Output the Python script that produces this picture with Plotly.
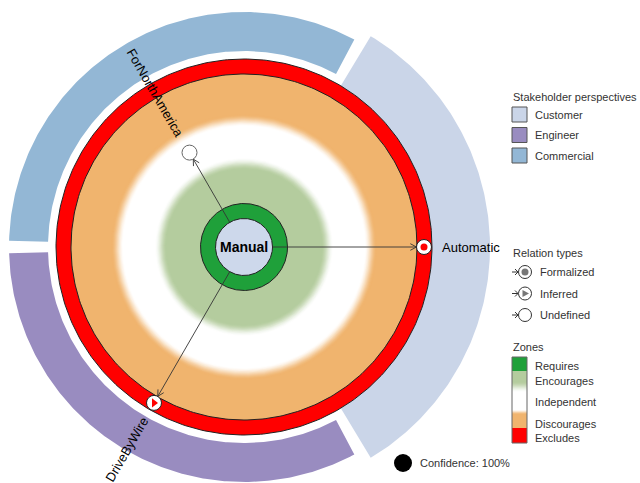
"""Feature relation radar: one centre feature, its zones and related features."""

import numpy as np
import plotly.graph_objects as go

FONT = "Arial, Liberation Sans, sans-serif"
WIDTH, HEIGHT = 640, 483
# chart centre in pixels (from left, from top)
CENTER_PX = (244, 247)

# ---- data -------------------------------------------------------------
CENTER_FEATURE = "Manual"

PERSPECTIVES = ["Customer", "Engineer", "Commercial"]
PERSPECTIVE_START = [-59, 181.5, 62]  # degrees, counter-clockwise from east
PERSPECTIVE_END = [59, 298, 178.5]

ZONES = ["Requires", "Encourages", "Independent", "Discourages", "Excludes"]
ZONE_OUTER = [43.5, 84, 127, 173, 188]

FEATURES = ["Automatic", "ForNorthAmerica", "DriveByWire"]
FEATURE_ANGLE = [0, 120, 240]
FEATURE_DISTANCE = [180, 109, 180]
FEATURE_ZONE = ["Excludes", "Independent", "Excludes"]
FEATURE_RELATION = ["Formalized", "Undefined", "Inferred"]

RELATION_TYPES = ["Formalized", "Inferred", "Undefined"]
CONFIDENCE = 100

# ---- style ------------------------------------------------------------
PERSPECTIVE_COLORS = {"Customer": "#cad5e8", "Engineer": "#998cc0", "Commercial": "#93b7d5"}
PERSPECTIVE_RADII = {"Customer": (188, 246), "Engineer": (196, 235), "Commercial": (196, 235)}
ZONE_COLORS = {
    "Requires": "#1fa03a",
    "Encourages": "#b4cc9e",
    "Independent": "#ffffff",
    "Discourages": "#f0b46e",
    "Excludes": "#ff0000",
}
CENTER_COLOR = "#cdd8eb"
CENTER_RADIUS = 28.5
BLUR = 12
MARKER_RADIUS = 7.5
LABEL_GAP = 15
CHAR_WIDTH = 7.1
OUTLINE = "#222222"
TEXT_GREY = "#333333"


def hex_rgb(color):
    color = color.lstrip("#")
    return tuple(int(color[i:i + 2], 16) for i in (0, 2, 4))


def mix(c0, c1, t):
    a, b = hex_rgb(c0), hex_rgb(c1)
    return "rgb({},{},{})".format(*[round(a[i] + (b[i] - a[i]) * t) for i in range(3)])


def smooth(t):
    t = min(max(t, 0.0), 1.0)
    return t * t * (3 - 2 * t)


def polar_xy(r, deg):
    rad = np.radians(deg)
    return r * np.cos(rad), r * np.sin(rad)


def disk(fig, r, color, line=None):
    t = np.linspace(0, 360, 361)
    x, y = polar_xy(r, t)
    fig.add_trace(
        go.Scatter(
            x=x, y=y, mode="lines", fill="toself", fillcolor=color,
            line=dict(color=line or color, width=1 if line else 0),
            hoverinfo="skip", showlegend=False,
        )
    )


def sector(fig, r0, r1, a0, a1, color, name):
    t = np.linspace(a0, a1, 200)
    xo, yo = polar_xy(r1, t)
    xi, yi = polar_xy(r0, t[::-1])
    fig.add_trace(
        go.Scatter(
            x=np.concatenate([xo, xi, xo[:1]]), y=np.concatenate([yo, yi, yo[:1]]),
            mode="lines", fill="toself", fillcolor=color, line=dict(width=0),
            name=name, hoverinfo="name", showlegend=False,
        )
    )


def px(x):
    return x / WIDTH


def py(y):
    return 1 - y / HEIGHT


fig = go.Figure()

# stakeholder perspective arcs
for name, a0, a1 in zip(PERSPECTIVES, PERSPECTIVE_START, PERSPECTIVE_END):
    r0, r1 = PERSPECTIVE_RADII[name]
    sector(fig, r0, r1, a0, a1, PERSPECTIVE_COLORS[name], name)

# zones, painted from the outside in
zone_r = dict(zip(ZONES, ZONE_OUTER))
disk(fig, zone_r["Excludes"], ZONE_COLORS["Excludes"], OUTLINE)
disk(fig, zone_r["Discourages"], ZONE_COLORS["Discourages"], OUTLINE)
edge = zone_r["Independent"]
for r in np.arange(edge + BLUR / 2, edge - BLUR / 2 - 0.5, -1.0):
    t = smooth((r - (edge - BLUR / 2)) / BLUR)
    disk(fig, r, mix(ZONE_COLORS["Independent"], ZONE_COLORS["Discourages"], t))
edge = zone_r["Encourages"]
for r in np.arange(edge + BLUR / 2, edge - BLUR / 2 - 0.5, -1.0):
    t = smooth((r - (edge - BLUR / 2)) / BLUR)
    disk(fig, r, mix(ZONE_COLORS["Encourages"], ZONE_COLORS["Independent"], t))
disk(fig, zone_r["Requires"], ZONE_COLORS["Requires"], OUTLINE)
disk(fig, CENTER_RADIUS, CENTER_COLOR, OUTLINE)

# relation arrows, markers and labels
annotations = []
for name, ang, dist, zone, rel in zip(
    FEATURES, FEATURE_ANGLE, FEATURE_DISTANCE, FEATURE_ZONE, FEATURE_RELATION
):
    x0, y0 = polar_xy(CENTER_RADIUS, ang)
    x1, y1 = polar_xy(dist - MARKER_RADIUS, ang)
    bx, by = [], []
    for side in (-1, 1):
        hx, hy = polar_xy(7, ang + 180 + side * 28)
        bx += [x1 + hx, x1, None]
        by += [y1 + hy, y1, None]
    fig.add_trace(
        go.Scatter(
            x=[x0, x1, None] + bx, y=[y0, y1, None] + by, mode="lines",
            line=dict(color="#333333", width=0.9), hoverinfo="skip", showlegend=False,
        )
    )
    mx, my = polar_xy(dist, ang)
    fig.add_trace(
        go.Scatter(
            x=[mx], y=[my], mode="markers",
            marker=dict(size=2 * MARKER_RADIUS, color="white",
                        line=dict(color="#666666" if rel == "Undefined" else OUTLINE, width=1)),
            name=name, hoverinfo="name", showlegend=False,
        )
    )
    if rel != "Undefined":
        fig.add_trace(
            go.Scatter(
                x=[mx], y=[my], mode="markers",
                marker=dict(symbol="circle" if rel == "Formalized" else "triangle-right",
                            size=7 if rel == "Formalized" else 8, color=ZONE_COLORS[zone],
                            line=dict(width=0)),
                hoverinfo="skip", showlegend=False,
            )
        )
    half = len(name) * CHAR_WIDTH / 2
    lx, ly = polar_xy(dist + LABEL_GAP + half, ang)
    if np.cos(np.radians(ang)) >= -1e-9:
        tangle = -ang
    else:
        tangle = -(ang + 180)
    tangle = (tangle + 180) % 360 - 180
    annotations.append(dict(
        x=lx, y=ly, xref="x", yref="y", text=name, showarrow=False, textangle=tangle,
        font=dict(family=FONT, size=13, color="black"), xanchor="center", yanchor="middle",
    ))

annotations.append(dict(
    x=0, y=0, xref="x", yref="y", text="<b>" + CENTER_FEATURE + "</b>", showarrow=False,
    font=dict(family=FONT, size=14, color="black"),
))

# ---- legend panels ----------------------------------------------------
shapes = []
legend_font = dict(family=FONT, size=11, color=TEXT_GREY)


def legend_text(x, y, text):
    annotations.append(dict(
        x=px(x), y=py(y), xref="paper", yref="paper", text=text, showarrow=False,
        xanchor="left", yanchor="middle", font=legend_font,
    ))


legend_text(511, 97, "Stakeholder perspectives")
for i, name in enumerate(PERSPECTIVES):
    top = 107 + i * 20.5
    shapes.append(dict(
        type="rect", xref="paper", yref="paper", x0=px(512), x1=px(527),
        y0=py(top), y1=py(top + 15), fillcolor=PERSPECTIVE_COLORS[name],
        line=dict(color="#555555", width=1),
    ))
    legend_text(533, top + 7.5, name)

legend_text(511, 253, "Relation types")
for i, rel in enumerate(RELATION_TYPES):
    cy = 272 + i * 21.5
    shapes.append(dict(type="line", xref="paper", yref="paper", x0=px(512), x1=px(518),
                       y0=py(cy), y1=py(cy), line=dict(color="#333333", width=1)))
    shapes.append(dict(type="path", xref="paper", yref="paper",
                       path=f"M{px(515)},{py(cy - 3)} L{px(518)},{py(cy)} L{px(515)},{py(cy + 3)}",
                       line=dict(color="#333333", width=1)))
    shapes.append(dict(type="circle", xref="paper", yref="paper", x0=px(518.5), x1=px(531.5),
                       y0=py(cy - 6.5), y1=py(cy + 6.5), fillcolor="white",
                       line=dict(color="#333333", width=1)))
    if rel == "Formalized":
        shapes.append(dict(type="circle", xref="paper", yref="paper", x0=px(521.5), x1=px(528.5),
                           y0=py(cy - 3.5), y1=py(cy + 3.5), fillcolor="#777777",
                           line=dict(width=0)))
    elif rel == "Inferred":
        shapes.append(dict(type="path", xref="paper", yref="paper",
                           path=f"M{px(522.5)},{py(cy - 3.5)} L{px(529)},{py(cy)} "
                                f"L{px(522.5)},{py(cy + 3.5)} Z",
                           fillcolor="#777777", line=dict(width=0)))
    legend_text(538, cy, rel)

legend_text(511, 347, "Zones")
bar_top, bar_bottom = 357, 443
for y in range(bar_top, bar_bottom):
    if y < 371:
        c = ZONE_COLORS["Requires"]
    elif y < 381:
        c = ZONE_COLORS["Encourages"]
    elif y < 392:
        c = mix(ZONE_COLORS["Encourages"], "#ffffff", smooth((y - 381) / 11))
    elif y < 409:
        c = "#ffffff"
    elif y < 414:
        c = mix("#ffffff", ZONE_COLORS["Discourages"], smooth((y - 409) / 5))
    elif y < 428:
        c = ZONE_COLORS["Discourages"]
    else:
        c = ZONE_COLORS["Excludes"]
    shapes.append(dict(type="rect", xref="paper", yref="paper", x0=px(512), x1=px(527),
                       y0=py(y), y1=py(y + 1.05), fillcolor=c, line=dict(width=0)))
shapes.append(dict(type="rect", xref="paper", yref="paper", x0=px(512), x1=px(527),
                   y0=py(bar_top), y1=py(bar_bottom), line=dict(color="#666666", width=1)))
for name, y in zip(ZONES, [366, 381, 402, 424, 438]):
    legend_text(533, y, name)

shapes.append(dict(type="circle", xref="paper", yref="paper", x0=px(394), x1=px(412),
                   y0=py(454), y1=py(472), fillcolor="black", line=dict(width=0)))
legend_text(418, 463, f"Confidence: {CONFIDENCE}%")

cx, cy = CENTER_PX
fig.update_layout(
    width=WIDTH,
    height=HEIGHT,
    margin=dict(l=0, r=0, t=0, b=0),
    paper_bgcolor="white",
    plot_bgcolor="white",
    showlegend=False,
    shapes=shapes,
    annotations=annotations,
    xaxis=dict(range=[-cx, WIDTH - cx], visible=False, fixedrange=True),
    yaxis=dict(range=[cy - HEIGHT, cy], visible=False, fixedrange=True),
)

# drop the default page margin so the figure sits at the window origin
fig.write_html(
    "out.html",
    config={"displayModeBar": False},
    post_script="document.body.style.margin = '0px';",
)
